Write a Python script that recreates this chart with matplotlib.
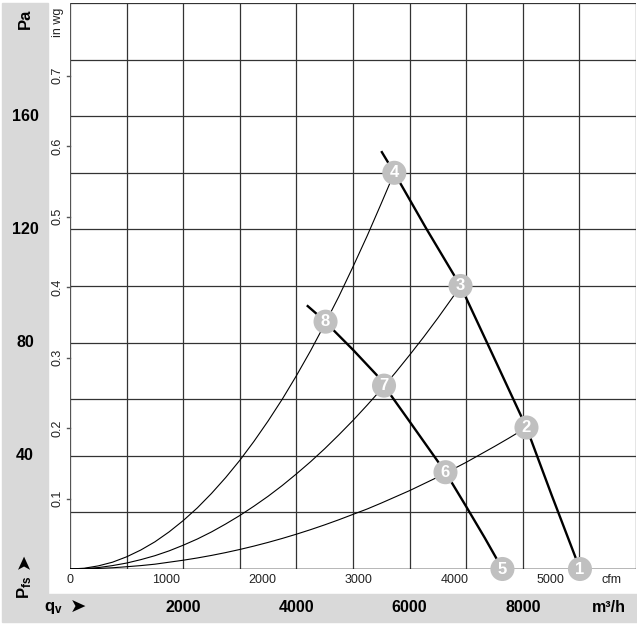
import matplotlib
matplotlib.use('Agg')
import matplotlib.pyplot as plt
import matplotlib.transforms as mtransforms
from matplotlib.patches import Rectangle

plt.rcParams['font.family'] = ['Liberation Sans', 'DejaVu Sans']
plt.rcParams['mathtext.fontset'] = 'custom'
plt.rcParams['mathtext.rm'] = 'Liberation Sans'
plt.rcParams['mathtext.bf'] = 'Liberation Sans:bold'

# fan curves (m3/h, Pa)
fan_hi_q = [5510, 5730, 6300, 6900, 7470, 8065, 8510, 9010]
fan_hi_p = [147.3, 140.0, 120.1, 100.0, 75.6, 50.0, 26.1, 0.0]
fan_lo_q = [4200, 4515, 4680, 5003, 5416, 5548, 6004, 6634, 6993, 7328, 7640]
fan_lo_p = [92.9, 87.4, 83.9, 77.4, 68.6, 64.8, 52.0, 34.2, 22.3, 11.0, 0.0]

# system curves
sys_a_q = [0, 250, 500, 750, 1000, 1250, 1500, 1750, 2000, 2250, 2500, 2750, 3000,
           3250, 3500, 3750, 4000, 4250, 4500, 4750, 5000, 5250, 5500, 5730]
sys_a_p = [0, 0.27, 1.1, 2.4, 4.3, 6.7, 9.6, 13.1, 17.1, 21.6, 26.7, 32.3, 38.4,
           45.1, 52.3, 60.0, 68.3, 77.1, 86.5, 96.3, 106.8, 117.7, 129.2, 140.0]
sys_b_q = [0, 250, 500, 750, 1000, 1250, 1500, 1750, 2000, 2250, 2500, 2750, 3000,
           3250, 3500, 3750, 4000, 4250, 4500, 4750, 5000, 5250, 5500, 5750, 6000,
           6250, 6500, 6750, 6900]
sys_b_p = [0, 0.13, 0.5, 1.2, 2.1, 3.3, 4.7, 6.4, 8.4, 10.6, 13.1, 15.9, 18.9,
           22.2, 25.7, 29.5, 33.6, 37.9, 42.5, 47.4, 52.5, 57.9, 63.5, 69.4, 75.6,
           82.0, 88.7, 95.7, 100.0]
sys_c_q = [0, 250, 500, 750, 1000, 1250, 1500, 1750, 2000, 2250, 2500, 2750, 3000,
           3250, 3500, 3750, 4000, 4250, 4500, 4750, 5000, 5250, 5500, 5750, 6000,
           6250, 6500, 6750, 7000, 7250, 7500, 7750, 8065]
sys_c_p = [0, 0.05, 0.2, 0.43, 0.8, 1.2, 1.7, 2.4, 3.1, 3.9, 4.8, 5.8, 6.9,
           8.1, 9.4, 10.8, 12.3, 13.9, 15.6, 17.4, 19.3, 21.2, 23.3, 25.5, 27.7,
           30.1, 32.5, 35.1, 37.7, 40.5, 43.3, 46.2, 50.0]

# operating points
pt_labels = ['1', '2', '3', '4', '5', '6', '7', '8']
pt_q = [9010, 8065, 6900, 5730, 7640, 6634, 5548, 4515]
pt_p = [0.0, 50.0, 100.0, 140.0, 0.0, 34.2, 64.8, 87.4]

pa_ticks = [40, 80, 120, 160]
m3h_ticks = [2000, 4000, 6000, 8000]
cfm_ticks = [0, 1000, 2000, 3000, 4000, 5000]
inwg_ticks = [0.1, 0.2, 0.3, 0.4, 0.5, 0.6, 0.7]
CFM = 1.699      # m3/h per cfm
INWG = 249.09    # Pa per in wg

W, H = 637, 625
fig = plt.figure(figsize=(W / 100, H / 100), dpi=100)
fig.patch.set_facecolor('white')

def fx(px):
    return px / W

def fy(py):
    return 1 - py / H

band = '#d9d9d9'
fig.add_artist(Rectangle((fx(2), fy(594)), fx(48) - fx(2), fy(3) - fy(594),
                         transform=fig.transFigure, color=band, zorder=0))
fig.add_artist(Rectangle((fx(2), fy(622)), fx(637) - fx(2), fy(594) - fy(622),
                         transform=fig.transFigure, color=band, zorder=0))

ax = fig.add_axes([fx(70), fy(569), fx(636) - fx(70), fy(3) - fy(569)])
ax.set_xlim(0, 10000)
ax.set_ylim(0, 200)
ax.set_xticks(range(0, 10001, 1000))
ax.set_yticks(range(0, 201, 20))
ax.tick_params(length=0, labelbottom=False, labelleft=False)
ax.grid(True, color='#333333', lw=0.9)
for s in ax.spines.values():
    s.set_visible(False)
ax.axvline(0, color='#555555', lw=1.4, zorder=2)
ax.axhline(0, color='black', lw=1.0, zorder=2)
ax.set_axisbelow(True)

# system curves
for q, p in [(sys_a_q, sys_a_p), (sys_b_q, sys_b_p), (sys_c_q, sys_c_p)]:
    ax.plot(q, p, color='black', lw=0.8, zorder=3)

# fan curves
ax.plot(fan_hi_q, fan_hi_p, color='black', lw=1.7, zorder=3, clip_on=False)
ax.plot(fan_lo_q, fan_lo_p, color='black', lw=1.7, zorder=3, clip_on=False)

ax.scatter(pt_q, pt_p, s=300, color='#c0c0c0', edgecolors='none', zorder=5, clip_on=False)
for lab, q, p in zip(pt_labels, pt_q, pt_p):
    ax.text(q, p, lab, color='white', fontsize=12, fontweight='bold',
            ha='center', va='center', zorder=6, clip_on=False)

# in wg scale (inside, left)
for v in inwg_ticks:
    ax.plot([-60, 0], [v * INWG] * 2, color='#555555', lw=1.0, clip_on=False)
    ax.text(-220, v * INWG, f'{v:.1f}', rotation=90, fontsize=9, color='#222222',
            ha='center', va='center')
ax.text(-220, 193, 'in wg', rotation=90, fontsize=9, color='#222222',
        ha='center', va='center')

# cfm scale (inside, bottom)
for v in cfm_ticks:
    ax.text(v * CFM, -4, str(v), fontsize=9, color='#222222', ha='center', va='center')
ax.text(9570, -4, 'cfm', fontsize=9, color='#222222', ha='center', va='center')

# Pa scale (left band)
ty = mtransforms.blended_transform_factory(fig.transFigure, ax.transData)
for v in pa_ticks:
    ax.text(fx(25), v, str(v), transform=ty, fontsize=11.5, fontweight='bold',
            ha='center', va='center')
fig.text(fx(25), fy(19), 'Pa', rotation=90, fontsize=12, fontweight='bold',
         ha='center', va='center')
fig.text(fx(25), fy(587), r'$\mathbf{P_{fs}}$', rotation=90, fontsize=12,
         ha='center', va='center')
fig.text(fx(24), fy(561), '\u27a4', rotation=90, fontsize=14, family='DejaVu Sans',
         ha='center', va='center')

# m3/h scale (bottom band)
tx = mtransforms.blended_transform_factory(ax.transData, fig.transFigure)
for v in m3h_ticks:
    ax.text(v, fy(607), str(v), transform=tx, fontsize=11.5, fontweight='bold',
            ha='center', va='center')
fig.text(fx(609), fy(607), 'm³/h', fontsize=11.5, fontweight='bold',
         ha='center', va='center')
fig.text(fx(53), fy(608), r'$\mathbf{q_v}$', fontsize=12, ha='center', va='center')
fig.text(fx(78), fy(607), '\u27a4', fontsize=14, family='DejaVu Sans',
         ha='center', va='center')

fig.savefig('out.png', dpi=100)
